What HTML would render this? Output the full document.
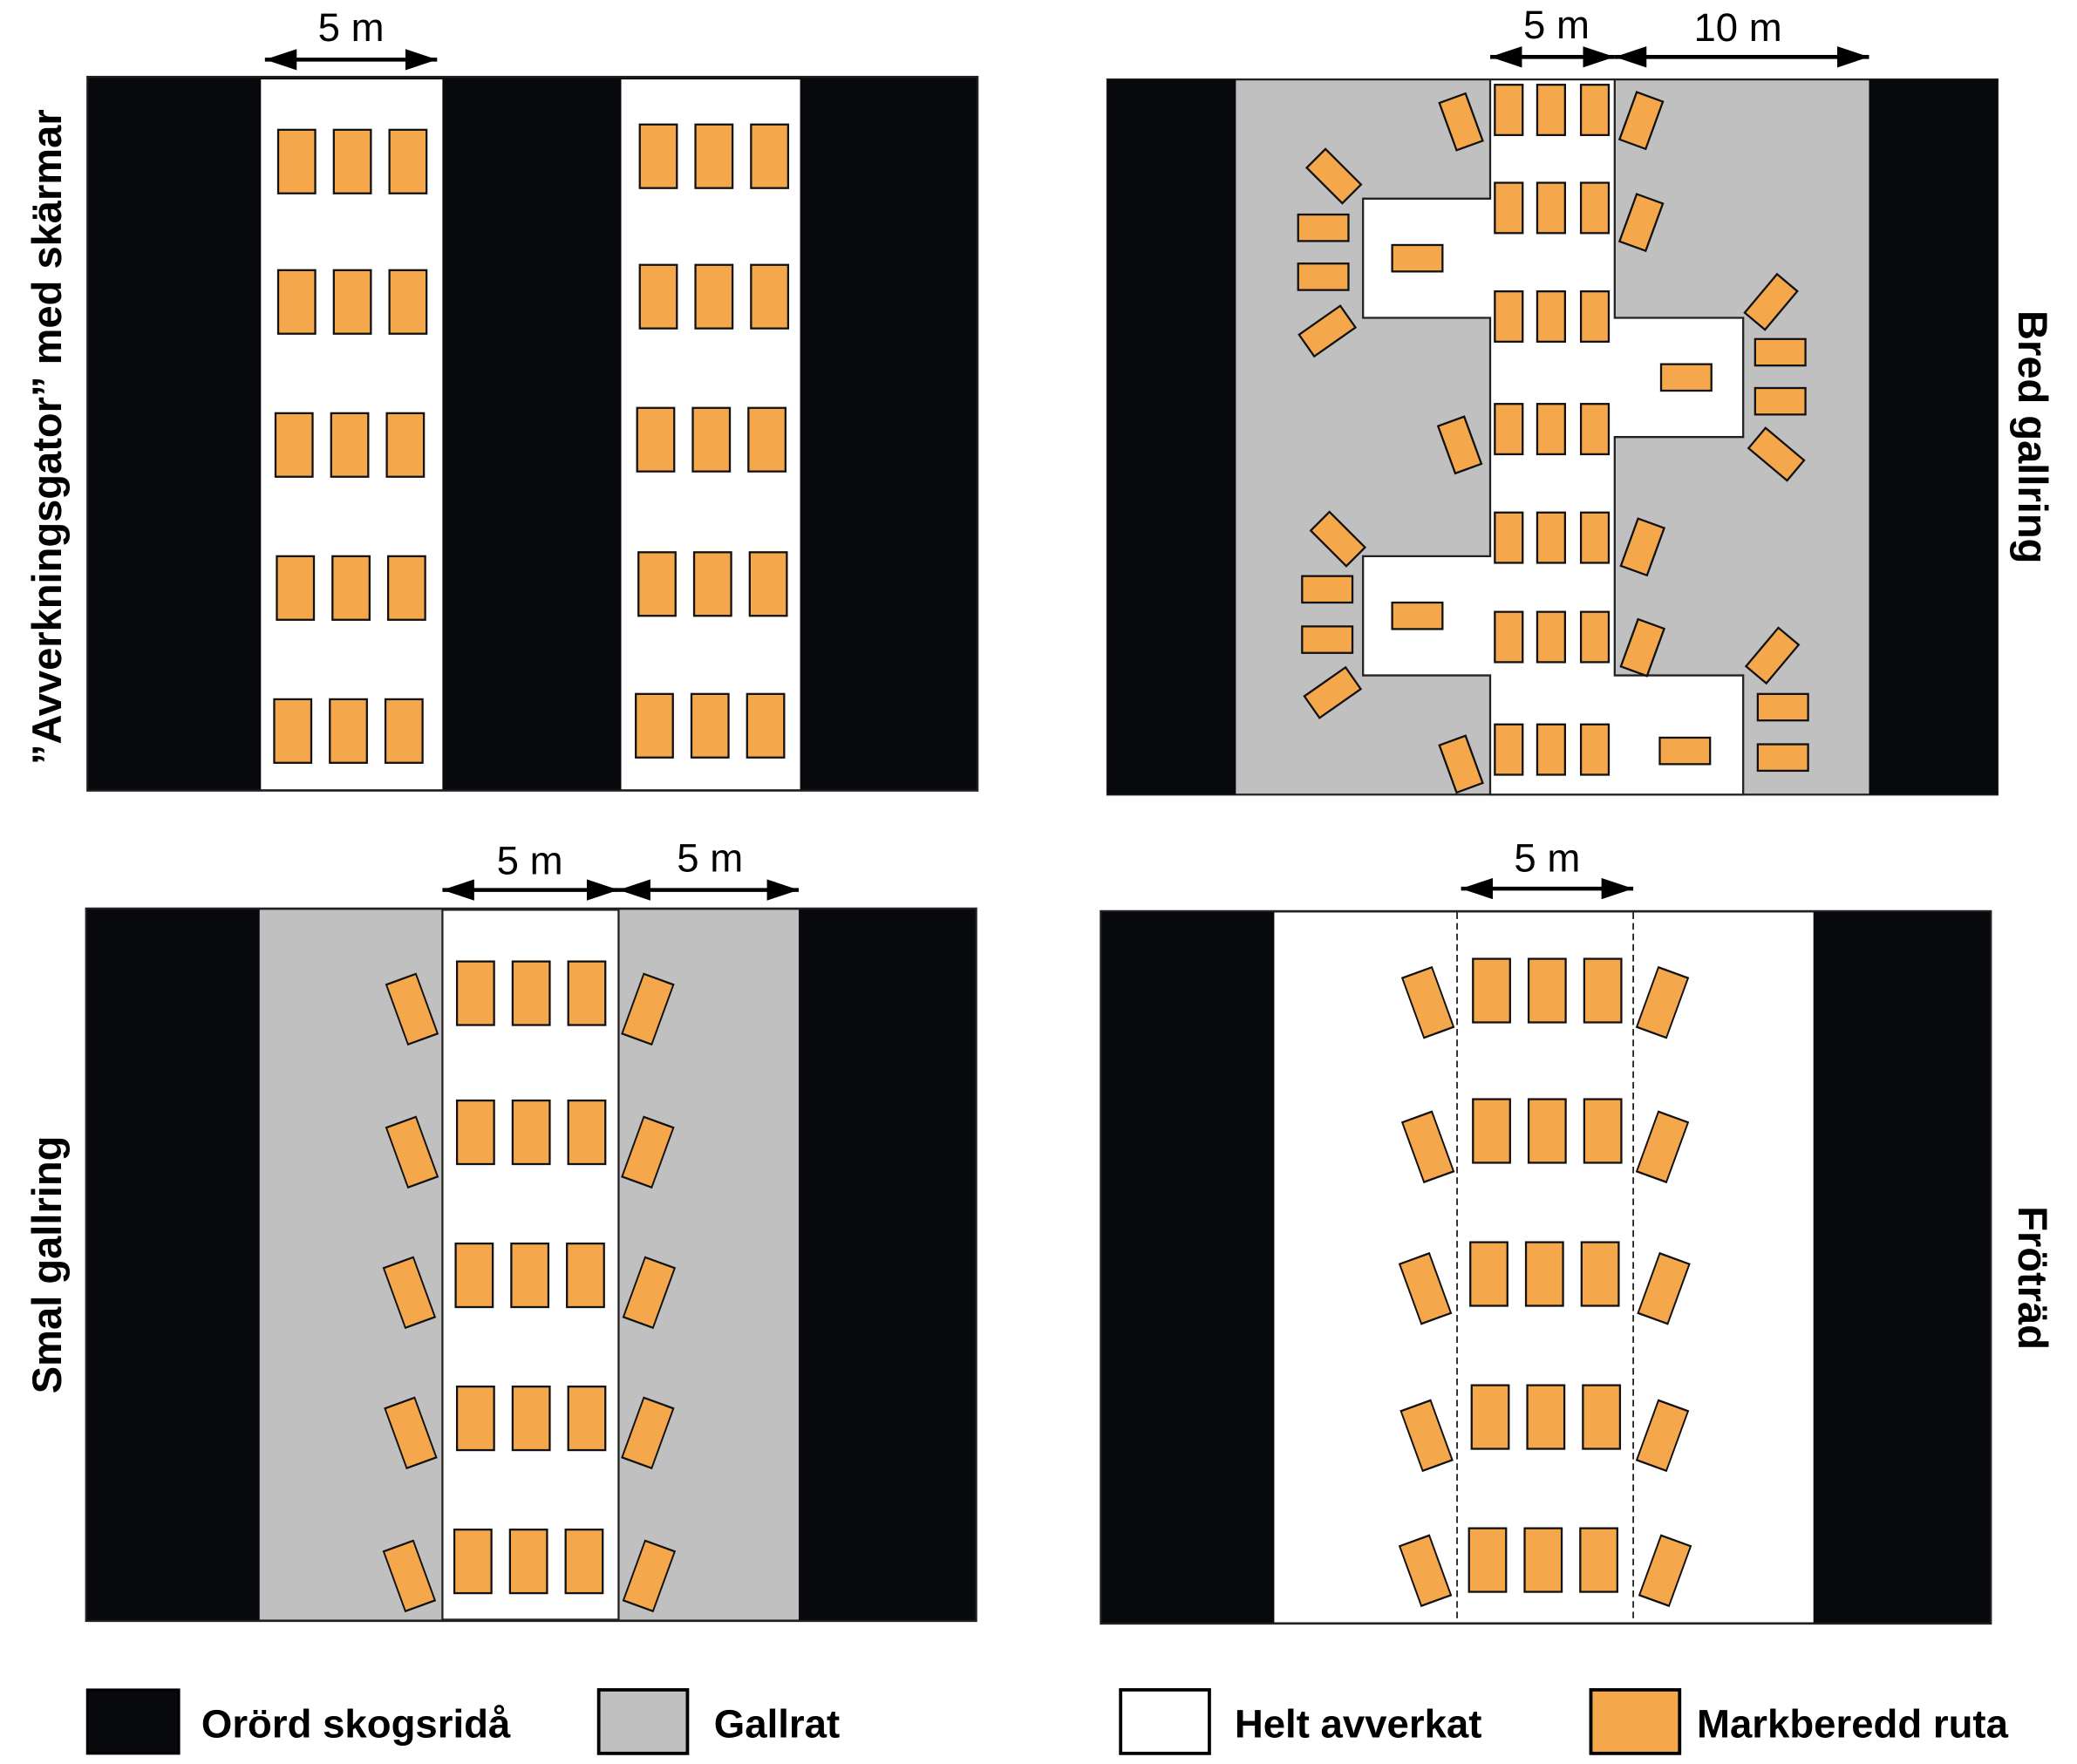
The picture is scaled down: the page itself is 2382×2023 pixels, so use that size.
<!DOCTYPE html>
<html><head><meta charset="utf-8"><style>html,body{margin:0;padding:0;background:#fff}svg{display:block}</style></head>
<body>
<svg width="2382" height="2023" viewBox="0 0 1568 1332" preserveAspectRatio="none" xmlns="http://www.w3.org/2000/svg" font-family="Liberation Sans, sans-serif">
<defs>
<marker id="a" viewBox="0 0 10 10" refX="10" refY="5" markerWidth="24" markerHeight="16" markerUnits="userSpaceOnUse" orient="auto-start-reverse" preserveAspectRatio="none"><path d="M0,0 L10,5 L0,10 z" fill="#000"/></marker>
<g id="b"><rect x="-14" y="-24" width="28" height="48" fill="#f5a84b" stroke="#111" stroke-width="1.5"/></g>
<g id="s"><rect x="-10.5" y="-19" width="21" height="38" fill="#f5a84b" stroke="#111" stroke-width="1.5"/></g>
<g id="h"><rect x="-19" y="-10" width="38" height="20" fill="#f5a84b" stroke="#111" stroke-width="1.5"/></g>
</defs>
<g stroke="#000" stroke-width="3" fill="none">
<line x1="200" y1="45" x2="330" y2="45" marker-start="url(#a)" marker-end="url(#a)"/>
<line x1="1125" y1="43" x2="1219" y2="43" marker-start="url(#a)" marker-end="url(#a)"/>
<line x1="1219" y1="43" x2="1411" y2="43" marker-start="url(#a)" marker-end="url(#a)"/>
<line x1="1222" y1="228" x2="1316" y2="228" marker-start="url(#a)" marker-end="url(#a)"/>
<line x1="334" y1="672" x2="467" y2="672" marker-start="url(#a)" marker-end="url(#a)"/>
<line x1="467" y1="672" x2="603" y2="672" marker-start="url(#a)" marker-end="url(#a)"/>
<line x1="1103" y1="671" x2="1233" y2="671" marker-start="url(#a)" marker-end="url(#a)"/>
</g>
<g font-size="30" text-anchor="middle" fill="#000">
<text x="265" y="31">5 m</text><text x="1175" y="29">5 m</text><text x="1312" y="31">10 m</text>
<text x="1276" y="213">5 m</text><text x="400" y="660">5 m</text><text x="536" y="658">5 m</text><text x="1168" y="658">5 m</text>
</g>
<!-- Panel 1 -->
<rect x="66" y="58" width="672" height="539" fill="#08090d" stroke="#222" stroke-width="1.5"/>
<rect x="197" y="60" width="137" height="536" fill="#fff"/>
<rect x="469" y="60" width="135" height="536" fill="#fff"/>
<g>
<use href="#b" x="224" y="122"/><use href="#b" x="266" y="122"/><use href="#b" x="308" y="122"/>
<use href="#b" x="224" y="228"/><use href="#b" x="266" y="228"/><use href="#b" x="308" y="228"/>
<use href="#b" x="222" y="336"/><use href="#b" x="264" y="336"/><use href="#b" x="306" y="336"/>
<use href="#b" x="223" y="444"/><use href="#b" x="265" y="444"/><use href="#b" x="307" y="444"/>
<use href="#b" x="221" y="552"/><use href="#b" x="263" y="552"/><use href="#b" x="305" y="552"/>
<use href="#b" x="497" y="118"/><use href="#b" x="539" y="118"/><use href="#b" x="581" y="118"/>
<use href="#b" x="497" y="224"/><use href="#b" x="539" y="224"/><use href="#b" x="581" y="224"/>
<use href="#b" x="495" y="332"/><use href="#b" x="537" y="332"/><use href="#b" x="579" y="332"/>
<use href="#b" x="496" y="441"/><use href="#b" x="538" y="441"/><use href="#b" x="580" y="441"/>
<use href="#b" x="494" y="548"/><use href="#b" x="536" y="548"/><use href="#b" x="578" y="548"/>
</g>
<!-- Panel 2 -->
<rect x="836" y="60" width="672" height="540" fill="#c0c0c0" stroke="#222" stroke-width="1.5"/>
<rect x="836" y="60" width="97" height="540" fill="#08090d"/>
<rect x="1411" y="60" width="97" height="540" fill="#08090d"/>
<polygon points="1125,60 1219,60 1219,240 1316,240 1316,330 1219,330 1219,510 1316,510 1316,600 1125,600 1125,510 1029,510 1029,420 1125,420 1125,240 1029,240 1029,150 1125,150" fill="#fff" stroke="#222" stroke-width="1.5"/>
<g>
<use href="#s" x="1139" y="83"/><use href="#s" x="1171" y="83"/><use href="#s" x="1204" y="83"/>
<use href="#s" x="1139" y="157"/><use href="#s" x="1171" y="157"/><use href="#s" x="1204" y="157"/>
<use href="#s" x="1139" y="239"/><use href="#s" x="1171" y="239"/><use href="#s" x="1204" y="239"/>
<use href="#s" x="1139" y="324"/><use href="#s" x="1171" y="324"/><use href="#s" x="1204" y="324"/>
<use href="#s" x="1139" y="406"/><use href="#s" x="1171" y="406"/><use href="#s" x="1204" y="406"/>
<use href="#s" x="1139" y="481"/><use href="#s" x="1171" y="481"/><use href="#s" x="1204" y="481"/>
<use href="#s" x="1139" y="566"/><use href="#s" x="1171" y="566"/><use href="#s" x="1204" y="566"/>
<use href="#h" x="1070" y="195"/><use href="#h" x="1273" y="285"/><use href="#h" x="1070" y="465"/><use href="#h" x="1272" y="567"/>
<use href="#s" transform="translate(1103,92) rotate(-20)"/><use href="#s" transform="translate(1102,336) rotate(-20)"/><use href="#s" transform="translate(1103,577) rotate(-20)"/>
<use href="#s" transform="translate(1239,91) rotate(20)"/><use href="#s" transform="translate(1239,168) rotate(20)"/><use href="#s" transform="translate(1240,413) rotate(20)"/><use href="#s" transform="translate(1240,489) rotate(20)"/>
<use href="#h" transform="translate(1007,133) rotate(45)"/><use href="#h" x="999" y="172"/><use href="#h" x="999" y="209"/><use href="#h" transform="translate(1002,250) rotate(-35)"/>
<use href="#h" transform="translate(1010,407) rotate(45)"/><use href="#h" x="1002" y="445"/><use href="#h" x="1002" y="483"/><use href="#h" transform="translate(1006,523) rotate(-35)"/>
<use href="#h" transform="translate(1337,228) rotate(-50)"/><use href="#h" x="1344" y="266"/><use href="#h" x="1344" y="303"/><use href="#h" transform="translate(1341,343) rotate(40)"/>
<use href="#h" transform="translate(1338,495) rotate(-50)"/><use href="#h" x="1346" y="534"/><use href="#h" x="1346" y="572"/>
</g>
<!-- Panel 3 -->
<rect x="65" y="686" width="672" height="538" fill="#08090d" stroke="#222" stroke-width="1.5"/>
<rect x="196" y="687" width="407" height="536" fill="#c0c0c0"/>
<rect x="334" y="687" width="133" height="536" fill="#fff" stroke="#222" stroke-width="1.5"/>
<g>
<use href="#b" x="359" y="750"/><use href="#b" x="401" y="750"/><use href="#b" x="443" y="750"/>
<use href="#b" x="359" y="855"/><use href="#b" x="401" y="855"/><use href="#b" x="443" y="855"/>
<use href="#b" x="358" y="963"/><use href="#b" x="400" y="963"/><use href="#b" x="442" y="963"/>
<use href="#b" x="359" y="1071"/><use href="#b" x="401" y="1071"/><use href="#b" x="443" y="1071"/>
<use href="#b" x="357" y="1179"/><use href="#b" x="399" y="1179"/><use href="#b" x="441" y="1179"/>
<use href="#b" transform="translate(311,762) rotate(-20) scale(0.85,1)"/><use href="#b" transform="translate(489,762) rotate(20) scale(0.85,1)"/>
<use href="#b" transform="translate(311,870) rotate(-20) scale(0.85,1)"/><use href="#b" transform="translate(489,870) rotate(20) scale(0.85,1)"/>
<use href="#b" transform="translate(309,976) rotate(-20) scale(0.85,1)"/><use href="#b" transform="translate(490,976) rotate(20) scale(0.85,1)"/>
<use href="#b" transform="translate(310,1082) rotate(-20) scale(0.85,1)"/><use href="#b" transform="translate(489,1082) rotate(20) scale(0.85,1)"/>
<use href="#b" transform="translate(309,1190) rotate(-20) scale(0.85,1)"/><use href="#b" transform="translate(490,1190) rotate(20) scale(0.85,1)"/>
</g>
<!-- Panel 4 -->
<rect x="831" y="688" width="672" height="538" fill="#08090d" stroke="#222" stroke-width="1.5"/>
<rect x="962" y="689" width="407" height="536" fill="#fff"/>
<line x1="1100" y1="689" x2="1100" y2="1225" stroke="#222" stroke-width="1.2" stroke-dasharray="5,3"/>
<line x1="1233" y1="689" x2="1233" y2="1225" stroke="#222" stroke-width="1.2" stroke-dasharray="5,3"/>
<g>
<use href="#b" x="1126" y="748"/><use href="#b" x="1168" y="748"/><use href="#b" x="1210" y="748"/>
<use href="#b" x="1126" y="854"/><use href="#b" x="1168" y="854"/><use href="#b" x="1210" y="854"/>
<use href="#b" x="1124" y="962"/><use href="#b" x="1166" y="962"/><use href="#b" x="1208" y="962"/>
<use href="#b" x="1125" y="1070"/><use href="#b" x="1167" y="1070"/><use href="#b" x="1209" y="1070"/>
<use href="#b" x="1123" y="1178"/><use href="#b" x="1165" y="1178"/><use href="#b" x="1207" y="1178"/>
<use href="#b" transform="translate(1078,757) rotate(-20) scale(0.85,1)"/><use href="#b" transform="translate(1255,757) rotate(20) scale(0.85,1)"/>
<use href="#b" transform="translate(1078,866) rotate(-20) scale(0.85,1)"/><use href="#b" transform="translate(1255,866) rotate(20) scale(0.85,1)"/>
<use href="#b" transform="translate(1076,973) rotate(-20) scale(0.85,1)"/><use href="#b" transform="translate(1256,973) rotate(20) scale(0.85,1)"/>
<use href="#b" transform="translate(1077,1084) rotate(-20) scale(0.85,1)"/><use href="#b" transform="translate(1255,1084) rotate(20) scale(0.85,1)"/>
<use href="#b" transform="translate(1076,1186) rotate(-20) scale(0.85,1)"/><use href="#b" transform="translate(1257,1186) rotate(20) scale(0.85,1)"/>
</g>
<!-- side labels -->
<g font-size="31" font-weight="bold" fill="#000" text-anchor="middle">
<text transform="translate(46,330) rotate(-90)">”Avverkningsgator” med skärmar</text>
<text transform="translate(46,955) rotate(-90)">Smal gallring</text>
<text transform="translate(1524,330) rotate(90)">Bred gallring</text>
<text transform="translate(1524,965) rotate(90)">Fröträd</text>
</g>
<!-- legend -->
<rect x="66" y="1276" width="69" height="48" fill="#08090d" stroke="#000" stroke-width="2"/>
<rect x="452" y="1276" width="67" height="48" fill="#c0c0c0" stroke="#000" stroke-width="2.5"/>
<rect x="846" y="1276" width="67" height="48" fill="#fff" stroke="#000" stroke-width="2.5"/>
<rect x="1201" y="1276" width="67" height="48" fill="#f5a84b" stroke="#000" stroke-width="2.5"/>
<g font-size="30" font-weight="bold" fill="#000">
<text x="152" y="1312">Orörd skogsridå</text>
<text x="539" y="1312">Gallrat</text>
<text x="932" y="1312">Helt avverkat</text>
<text x="1281" y="1312">Markberedd ruta</text>
</g>
</svg>
</body></html>
